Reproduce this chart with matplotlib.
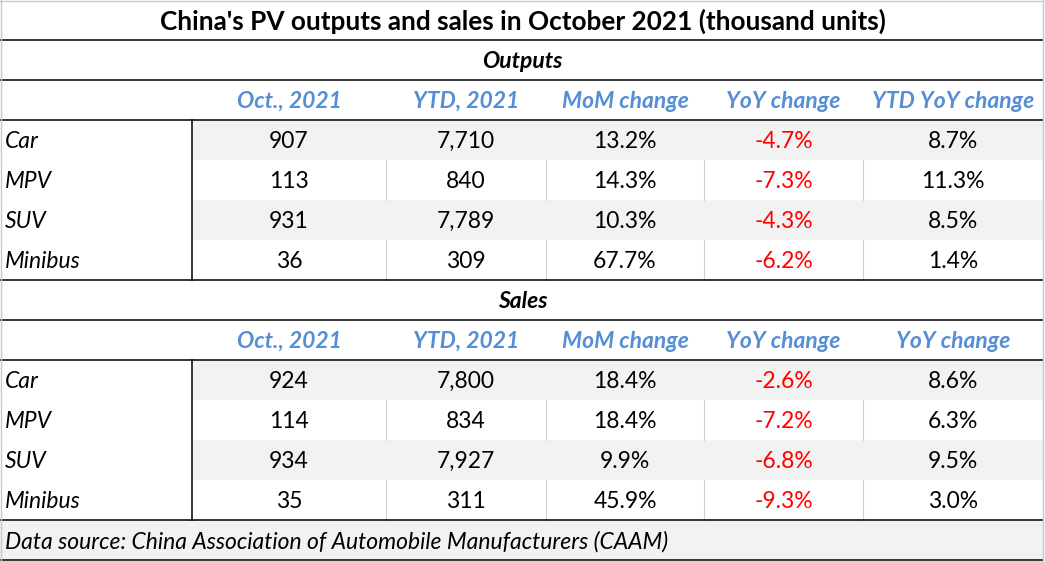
import matplotlib
matplotlib.use("Agg")
from matplotlib import pyplot as plt
from matplotlib.patches import Rectangle

plt.rcParams["font.family"] = ["Lato", "DejaVu Sans"]

# table data
title = "China's PV outputs and sales in October 2021 (thousand units)"
categories = ["Car", "MPV", "SUV", "Minibus"]

out_header = ["Oct., 2021", "YTD, 2021", "MoM change", "YoY change", "YTD YoY change"]
out_oct = ["907", "113", "931", "36"]
out_ytd = ["7,710", "840", "7,789", "309"]
out_mom = ["13.2%", "14.3%", "10.3%", "67.7%"]
out_yoy = ["-4.7%", "-7.3%", "-4.3%", "-6.2%"]
out_ytd_yoy = ["8.7%", "11.3%", "8.5%", "1.4%"]

sales_header = ["Oct., 2021", "YTD, 2021", "MoM change", "YoY change", "YoY change"]
sales_oct = ["924", "114", "934", "35"]
sales_ytd = ["7,800", "834", "7,927", "311"]
sales_mom = ["18.4%", "18.4%", "9.9%", "45.9%"]
sales_yoy = ["-2.6%", "-7.2%", "-6.8%", "-9.3%"]
sales_ytd_yoy = ["8.6%", "6.3%", "9.5%", "3.0%"]

source = "Data source: China Association of Automobile Manufacturers (CAAM)"

# layout in pixels
W, H = 1045, 561
col_edges = [0, 192, 386, 546, 704, 863, 1043]
row_h = 40
blue = "#558ED5"
red = "#FF0000"
grey_fill = "#F2F2F2"
fs = 16.5
dy = 1.5  # text sits a little below the row middle

fig = plt.figure(figsize=(W / 100, H / 100), dpi=100)
ax = fig.add_axes([0, 0, 1, 1])
ax.set_xlim(0, W)
ax.set_ylim(H, 0)
ax.axis("off")

centers = [(col_edges[i] + col_edges[i + 1]) / 2 for i in range(1, 6)]


def hline(y):
    ax.plot([0, col_edges[-1]], [y, y], color="black", lw=1.1)


def block(y0, section, header, cols):
    # section label row
    ax.text(W / 2, y0 + row_h / 2 + dy, section, ha="center", va="center",
            fontsize=fs, fontweight="bold", style="italic")
    hline(y0 + row_h)
    # header row
    for cx, h in zip(centers, header):
        ax.text(cx, y0 + 1.5 * row_h + dy, h, ha="center", va="center",
                fontsize=fs, fontweight="bold", style="italic", color=blue)
    hline(y0 + 2 * row_h)
    top = y0 + 2 * row_h
    for r, cat in enumerate(categories):
        ry = top + r * row_h
        if r % 2 == 0:
            ax.add_patch(Rectangle((col_edges[1], ry), col_edges[-1] - col_edges[1],
                                   row_h, color=grey_fill, lw=0, zorder=0))
        else:
            for x in col_edges[2:-1]:
                ax.plot([x, x], [ry, ry + row_h], color="#D0D0D0", lw=0.8)
        ax.text(5, ry + row_h / 2 + dy, cat, ha="left", va="center",
                fontsize=fs, style="italic")
        for c, (cx, vals) in enumerate(zip(centers, cols)):
            ax.text(cx, ry + row_h / 2 + dy, vals[r], ha="center", va="center",
                    fontsize=fs, color=red if c == 3 else "black")
    ax.plot([col_edges[1]] * 2, [top, top + 4 * row_h], color="black", lw=1.1)
    hline(top + 4 * row_h)


# title
ax.text(W / 2, row_h / 2 + dy, title, ha="center", va="center",
        fontsize=18.8, fontweight="bold")
hline(row_h)

block(row_h, "Outputs", out_header, [out_oct, out_ytd, out_mom, out_yoy, out_ytd_yoy])
block(7 * row_h, "Sales", sales_header,
      [sales_oct, sales_ytd, sales_mom, sales_yoy, sales_ytd_yoy])

# source row
ax.add_patch(Rectangle((0, 13 * row_h), col_edges[-1], row_h, color=grey_fill,
                       lw=0, zorder=0))
ax.text(5, 13.5 * row_h + dy, source, ha="left", va="center", fontsize=fs, style="italic")
hline(14 * row_h)

# outer frame
ax.plot([1, 1], [0, 14 * row_h], color="#C8C8C8", lw=1)
ax.plot([col_edges[-1]] * 2, [0, 14 * row_h], color="#C8C8C8", lw=1)
ax.plot([0, col_edges[-1]], [1, 1], color="#C8C8C8", lw=1)

fig.savefig("out.png", dpi=100)
